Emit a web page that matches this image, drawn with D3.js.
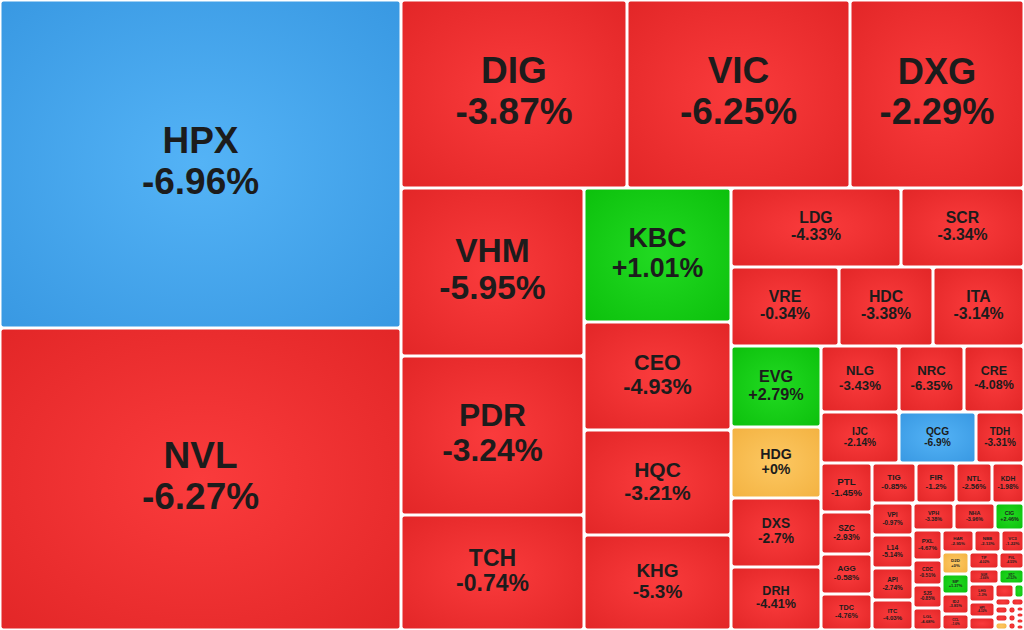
<!DOCTYPE html>
<html><head><meta charset="utf-8">
<script src="https://cdn.jsdelivr.net/npm/d3@7"></script>
<style>html,body{margin:0;padding:0;background:#fff;overflow:hidden}</style>
</head><body><svg id="chart" width="1024" height="630"></svg>
<script>
// ---- DATA ----
const tickers = ["HPX","NVL","DIG","VIC","DXG","VHM","PDR","TCH","KBC","CEO","HQC","KHG",
  "LDG","SCR","VRE","HDC","ITA","EVG","HDG","DXS","DRH","NLG","NRC","CRE","IJC","QCG","TDH",
  "PTL","SZC","AGG","TDC","TIG","FIR","NTL","KDH","VPI","L14","API","ITC","VPH","NHA","CIG",
  "PXL","CDC","SJS","LGL","HAR","NBB","VC3","D2D","SIP","IDJ","CCL","TIP","PVL","SGR","NTC",
  "LHG","HPI","OGC","CIL","KHA","DTA","HLD","BII","PFL","NVT","QCC","SDU","VRC","KOS","HTN","NDN","IDV"];
const changes = [-6.96,-6.27,-3.87,-6.25,-2.29,-5.95,-3.24,-0.74,1.01,-4.93,-3.21,-5.3,
  -4.33,-3.34,-0.34,-3.38,-3.14,2.79,0,-2.7,-4.41,-3.43,-6.35,-4.08,-2.14,-6.9,-3.31,
  -1.45,-2.93,-0.58,-4.76,-0.85,-1.2,-2.56,-1.98,-0.97,-5.14,-2.74,-4.03,-3.38,-3.96,2.46,
  -4.67,-0.51,-0.85,-4.68,-2.95,-2.13,-1.22,0,1.37,-3.85,-1.6,-4.02,-4.55,-3.66,0.52,
  -1.3,-4.32,-2.08,-4.1,1.2,-2.5,-1.9,-3.2,-2.1,0,-1.4,-2.7,-3.1,-0.5,-2.2,-1.8,-0.9];
const sizes = [131528,121102,42488,41924,32712,30744,29097,21045,19698,15876,15435,13965,
  13430,9717,8532,7426,7189,7290,6390,6210,5670,5148,4290,3960,3978,3927,2448,
  2499,2142,2040,1836,1760,1600,1440,1280,1312,1353,1312,1230,1107,1107,783,
  870,725,667,638,704,594,506,594,540,540,432,510,425,450,375,
  468,390,338,266,140,128,104,104,104,104,64,64,64,48,48,48,48];
// grouping of the map: "H" = members side by side, "V" = members stacked
const nesting =
["H",
  ["V","HPX","NVL"],
  ["V",
    ["H","DIG","VIC","DXG"],
    ["H",
      ["V","VHM","PDR","TCH"],
      ["V","KBC","CEO","HQC","KHG"],
      ["V",
        ["H","LDG","SCR"],
        ["H","VRE","HDC","ITA"],
        ["H",
          ["V","EVG","HDG","DXS","DRH"],
          ["V",
            ["H","NLG","NRC","CRE"],
            ["H","IJC","QCG","TDH"],
            ["H",
              ["V","PTL","SZC","AGG","TDC"],
              ["V",
                ["H","TIG","FIR","NTL","KDH"],
                ["H",
                  ["V","VPI","L14","API","ITC"],
                  ["V",
                    ["H","VPH","NHA","CIG"],
                    ["H",
                      ["V","PXL","CDC","SJS","LGL"],
                      ["V",
                        ["H","HAR","NBB","VC3"],
                        ["H",
                          ["V","D2D","SIP","IDJ","CCL"],
                          ["V",
                            ["H","TIP","PVL"],
                            ["H","SGR","NTC"],
                            ["H",
                              ["V","LHG","HPI","OGC"],
                              ["V",
                                ["H","CIL","KHA"],
                                ["H","DTA","HLD"],
                                ["H",
                                  ["V","BII","PFL","NVT"],
                                  ["V","QCC","SDU","VRC"],
                                  ["V","KOS","HTN","NDN","IDV"]
                                ]
                              ]
                            ]
                          ]
                        ]
                      ]
                    ]
                  ]
                ]
              ]
            ]
          ]
        ]
      ]
    ]
  ]
];

// ---- BUILD ----
const W = 1024, H = 630;
const idx = new Map(tickers.map((t, i) => [t, i]));
function build(n) {
  if (typeof n === "string") {
    const i = idx.get(n);
    return { name: n, change: changes[i], value: sizes[i] };
  }
  return { dir: n[0], children: n.slice(1).map(build) };
}
const root = d3.hierarchy(build(nesting)).sum(d => d.value || 0);
const tile = (node, x0, y0, x1, y1) =>
  (node.data.dir === "H" ? d3.treemapDice : d3.treemapSlice)(node, x0, y0, x1, y1);
d3.treemap().size([W, H]).tile(tile)(root);

const svg = d3.select("#chart");
const defs = svg.append("defs");
const palette = {
  red:    ["#fa3b3c", "#e22627"],
  blue:   ["#54b3f6", "#3898e2"],
  green:  ["#22da22", "#0cc00c"],
  yellow: ["#fdc862", "#f3b241"]
};
Object.entries(palette).forEach(([k, [c0, c1]]) => {
  const g = defs.append("radialGradient").attr("id", "g-" + k)
    .attr("cx", "50%").attr("cy", "50%").attr("r", "72%");
  g.append("stop").attr("offset", "0%").attr("stop-color", c0);
  g.append("stop").attr("offset", "100%").attr("stop-color", c1);
});
const colorKey = v => v <= -6.9 ? "blue" : v < 0 ? "red" : v === 0 ? "yellow" : "green";
const fmt = v => (v >= 0 ? "+" : "") + v + "%";

const gap = 1.5;
const cells = svg.selectAll("g.cell").data(root.leaves()).join("g").attr("class", "cell");
cells.append("rect")
  .attr("x", d => d.x0 + gap).attr("y", d => d.y0 + gap)
  .attr("width", d => Math.max(0, d.x1 - d.x0 - 2 * gap))
  .attr("height", d => Math.max(0, d.y1 - d.y0 - 2 * gap))
  .attr("rx", 2).attr("ry", 2)
  .attr("fill", d => `url(#g-${colorKey(d.data.change)})`);

cells.each(function (d) {
  const w = d.x1 - d.x0, h = d.y1 - d.y0;
  const fs = Math.min(37, h / 5, w / 4.8);
  if (fs < 3) return;
  const lh = fs * 1.1;
  const cx = (d.x0 + d.x1) / 2, cy = (d.y0 + d.y1) / 2 - fs * 0.08;
  const t = d3.select(this).append("text")
    .attr("text-anchor", "middle")
    .attr("font-family", "'Liberation Sans', Arial, Helvetica, sans-serif")
    .attr("font-weight", "bold")
    .attr("font-size", fs.toFixed(2) + "px")
    .attr("fill", "#1c1c1c");
  t.append("tspan").attr("x", cx).attr("y", cy - lh * 0.5)
    .attr("dominant-baseline", "central").text(d.data.name);
  t.append("tspan").attr("x", cx).attr("y", cy + lh * 0.5)
    .attr("dominant-baseline", "central").text(fmt(d.data.change));
});
</script>
</body></html>
